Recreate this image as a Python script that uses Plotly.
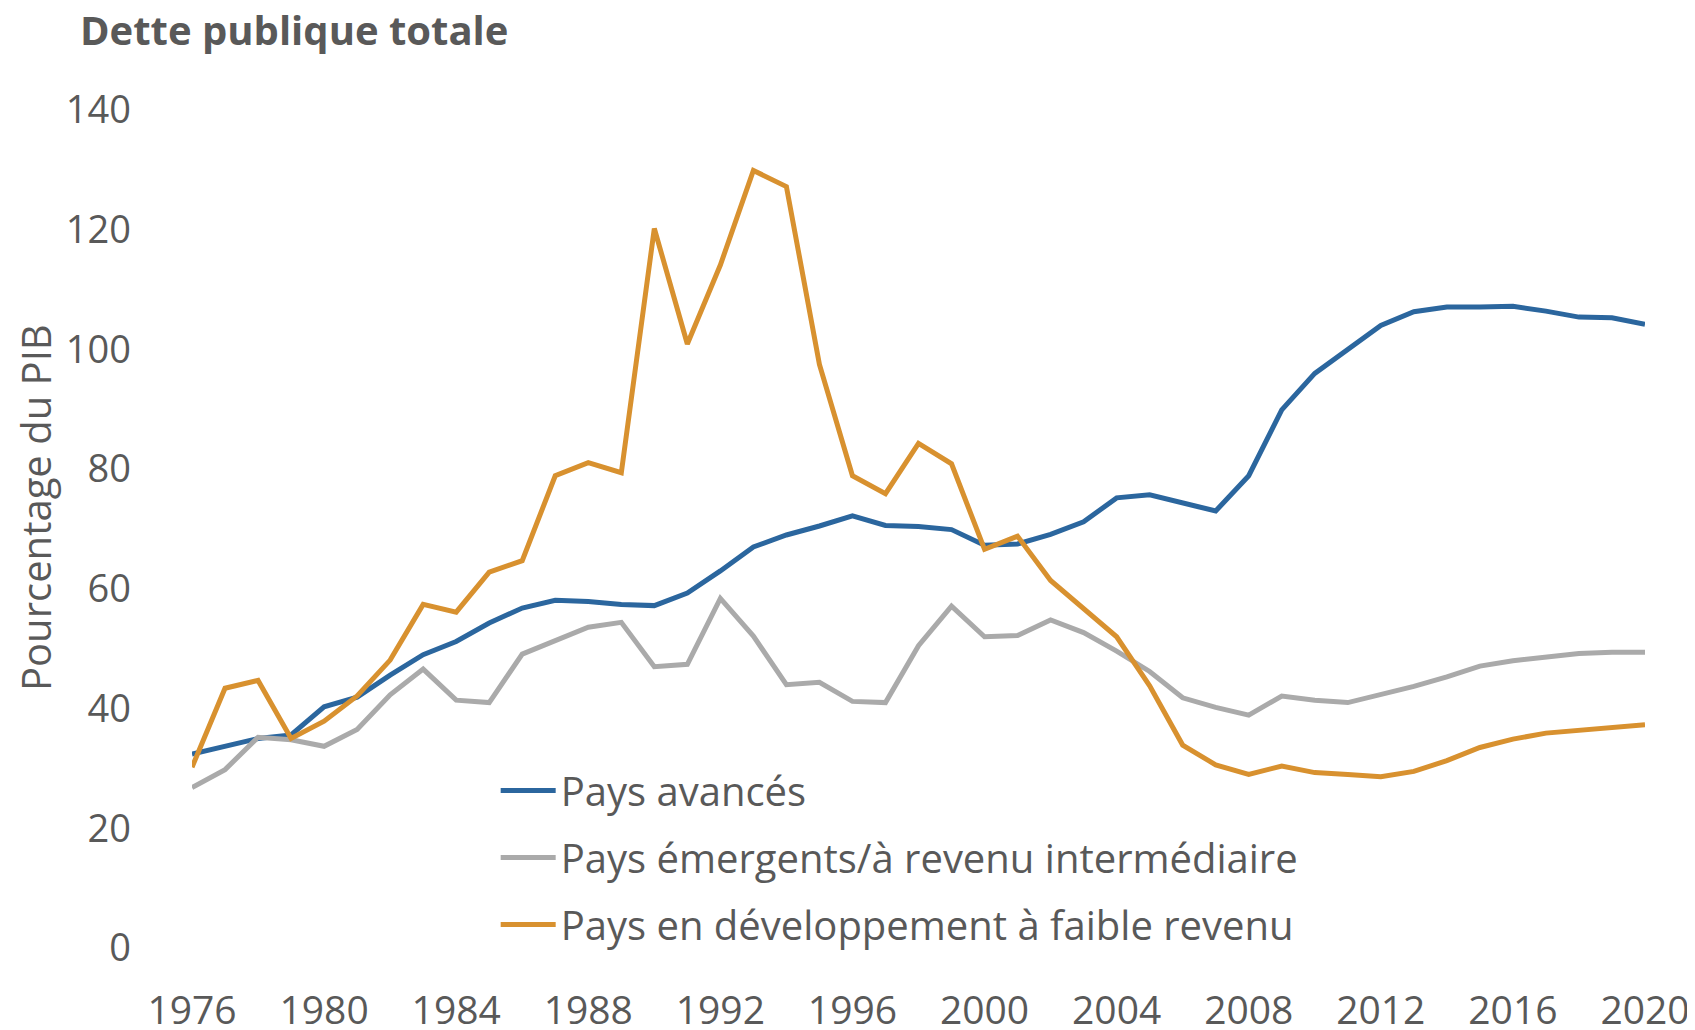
import plotly.graph_objects as go

years = list(range(1976, 2021))

pays_avances = [32.4, 33.7, 35.0, 35.6, 40.3, 41.9, 45.6, 49.0, 51.2, 54.3, 56.8, 58.1, 57.9, 57.4, 57.2,
                59.3, 63.0, 67.0, 69.0, 70.5, 72.2, 70.6, 70.4, 69.9, 67.3, 67.5, 69.1, 71.2, 75.2, 75.7,
                74.4, 73.0, 78.9, 89.9, 96.0, 100.0, 104.0, 106.3, 107.1, 107.1, 107.2, 106.4, 105.4, 105.3, 104.2]

pays_emergents = [26.8, 29.8, 35.2, 34.8, 33.7, 36.5, 42.3, 46.6, 41.4, 41.0, 49.1, 51.4, 53.6, 54.4, 47.0,
                  47.4, 58.4, 52.1, 44.0, 44.4, 41.2, 41.0, 50.5, 57.1, 52.0, 52.2, 54.8, 52.7, 49.6, 46.2,
                  41.8, 40.2, 38.9, 42.1, 41.4, 41.0, 42.3, 43.7, 45.3, 47.1, 48.0, 48.7, 49.2, 49.4, 49.4]

pays_faible = [30.2, 43.4, 44.7, 35.0, 37.9, 42.1, 48.1, 57.4, 56.1, 62.8, 64.7, 78.9, 81.1, 79.4, 120.2,
               100.9, 114.1, 129.9, 127.2, 97.5, 78.9, 75.9, 84.3, 80.9, 66.6, 68.8, 61.4, 56.8, 52.0, 43.8,
               33.9, 30.6, 29.0, 30.4, 29.3, 29.0, 28.6, 29.5, 31.3, 33.5, 34.9, 35.9, 36.4, 36.9, 37.3]

series_names = ["Pays avancés", "Pays émergents/à revenu intermédiaire", "Pays en développement à faible revenu"]
series_colors = ["#2B669E", "#AAAAAA", "#D8912F"]

x_ticks = list(range(1976, 2021, 4))
y_ticks = [0, 20, 40, 60, 80, 100, 120, 140]

title_text = "Dette publique totale"
ytitle_text = "Pourcentage du PIB"

FONT = "Open Sans"
TXT = "#595959"

# page body has an 8px default margin; the figure starts at (8, 8)
W, H = 1687, 1022

fig = go.Figure()
for i, (name, vals, col) in enumerate(zip(series_names, [pays_avances, pays_emergents, pays_faible], series_colors)):
    fig.add_trace(go.Scatter(x=years, y=vals, mode="lines", name=name,
                             legendgroup=f"g{i}",
                             line=dict(color=col, width=5)))

fig.update_layout(
    width=W, height=H,
    margin=dict(l=184, r=50, t=102, b=82, autoexpand=False),
    paper_bgcolor="white", plot_bgcolor="white",
    font=dict(family=FONT, color=TXT, size=38),
    title=dict(text=f"<b>{title_text}</b>", x=72/W, xref="container", xanchor="left",
               y=1-23/H, yref="container", yanchor="middle",
               font=dict(size=40, color=TXT, family=FONT)),
    showlegend=True,
    legend=dict(x=0.209, y=0.2267, xanchor="left", yanchor="top",
                bgcolor="rgba(0,0,0,0)", traceorder="grouped", tracegroupgap=12,
                font=dict(size=40, color=TXT, family=FONT), itemwidth=55),
    xaxis=dict(range=[1976, 2020], tickvals=x_ticks, showgrid=False, zeroline=False,
               showline=False, ticks="", ticklabelstandoff=36, automargin=False,
               tickfont=dict(size=39, color=TXT, family=FONT)),
    yaxis=dict(range=[0, 140], tickvals=y_ticks, showgrid=False, zeroline=False,
               showline=False, ticks="", ticklabelstandoff=60, automargin=False,
               tickfont=dict(size=38, color=TXT, family=FONT)),
    annotations=[dict(text=ytitle_text, textangle=-90, xref="paper", yref="paper",
                      x=(35-192)/(1645-192), y=(948-508)/838, xanchor="center", yanchor="middle",
                      showarrow=False, font=dict(size=40, color=TXT, family=FONT))],
)

fig.write_html("out.html")
